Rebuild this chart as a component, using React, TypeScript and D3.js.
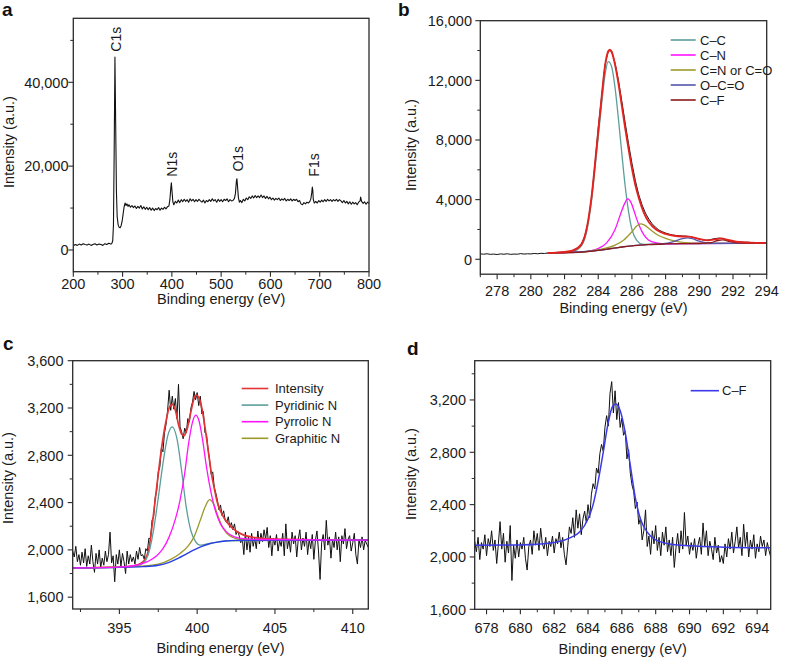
import React from "react";
import * as d3 from "d3";

type Pt = [number, number];

// ---------------- Panel a : survey spectrum ----------------
const surveySpectrum: Pt[] = [
  [200, 1000], [204, 1300], [208, 1100], [212, 1400], [216, 1200], [220, 1500], [224, 1300], [228, 1200], [232, 1400], [236, 1100],
  [240, 1300], [244, 1500], [248, 1200], [252, 1400], [256, 1300], [260, 1100], [264, 1500], [268, 1300], [272, 1600], [276, 1400],
  [278, 1500], [280, 2200], [281.5, 6000], [283, 24000], [284.5, 46000], [286, 30000], [287.5, 14000], [289, 8000], [291, 6000], [293, 5400],
  [295, 5300], [297, 5800], [299, 6800], [301, 8500], [303, 10200], [305, 11200], [307, 10600], [309, 11000], [311, 10400], [313, 10800],
  [316, 10200], [319, 10600], [322, 10100], [325, 10500], [328, 9900], [331, 10400], [334, 10000], [337, 10600], [340, 9800], [343, 10300],
  [346, 9700], [349, 10200], [352, 9600], [355, 10100], [358, 9500], [361, 10000], [364, 9400], [367, 9900], [370, 9600], [373, 10100],
  [376, 9500], [379, 10000], [382, 9700], [385, 10200], [388, 9800], [391, 10300], [394, 10500], [396, 12000], [398, 15000], [399, 16000],
  [400, 14500], [402, 11500], [404, 10800], [407, 11600], [410, 11200], [413, 11900], [416, 11300], [419, 12000], [422, 11500], [425, 12100],
  [428, 11600], [431, 12000], [434, 11400], [437, 12200], [440, 11700], [443, 12100], [446, 11500], [449, 12000], [452, 11600], [455, 12100],
  [458, 11700], [461, 11400], [464, 11900], [467, 11200], [470, 11800], [473, 11500], [476, 12000], [479, 11600], [482, 12200], [485, 11700],
  [488, 12000], [491, 11400], [494, 12100], [497, 11600], [500, 12000], [503, 11500], [506, 12100], [509, 11800], [512, 12200], [515, 11500],
  [518, 12000], [521, 11700], [524, 11800], [527, 12300], [529, 13500], [531, 16500], [532, 17000], [533, 15500], [535, 12500], [537, 11400],
  [539, 11800], [542, 11300], [545, 12100], [548, 11700], [551, 12400], [554, 12000], [557, 12700], [560, 12300], [563, 12900], [566, 12400],
  [569, 13000], [572, 12500], [575, 12900], [578, 12500], [581, 13100], [584, 12500], [587, 12900], [590, 12300], [593, 12800], [596, 12200],
  [599, 12600], [602, 12000], [605, 12400], [608, 11900], [611, 12300], [614, 12000], [617, 12400], [620, 11800], [623, 12200], [626, 11900],
  [629, 12300], [632, 11700], [635, 12100], [638, 11800], [641, 12200], [644, 11700], [647, 12100], [650, 11800], [653, 12100], [656, 11500],
  [659, 11800], [662, 11000], [665, 10800], [668, 11300], [671, 11000], [674, 11400], [677, 11200], [680, 11600], [682, 12200], [684, 13800],
  [685, 15000], [686, 14200], [687, 12000], [689, 11200], [692, 11600], [695, 11200], [698, 11800], [701, 11400], [704, 11900], [707, 11500],
  [710, 12000], [713, 11600], [716, 12100], [719, 11700], [722, 12000], [725, 11600], [728, 12000], [731, 11700], [734, 12100], [737, 11600],
  [740, 12000], [743, 11700], [746, 11300], [749, 11800], [752, 11200], [755, 11600], [758, 11000], [761, 11500], [764, 10900], [767, 11400],
  [770, 11000], [773, 11300], [776, 10800], [779, 11400], [782, 11700], [783, 12600], [785, 11600], [788, 11100], [791, 11500], [794, 10900],
  [797, 11400], [800, 11100],
];
const surveyPeakLabels = ["C1s", "N1s", "O1s", "F1s"];
const surveyPeakEnergies = [285, 399, 532, 686];
const surveyLabelIntensity = [47300, 17500, 18700, 17500];
const aXTicks = [200, 300, 400, 500, 600, 700, 800];
const aXMinor = [250, 350, 450, 550, 650, 750];
const aYTicks = [0, 20000, 40000];
const aYMinor = [10000, 30000, 50000];

// ---------------- Panel b : C1s ----------------
const c1sRawStart = 277;
const c1sRawStep = 0.2;
const c1sRaw = [
  360, 340, 370, 330, 350, 320, 360, 340, 370, 330,
  350, 340, 380, 350, 370, 360, 390, 370, 400, 390,
  420, 430, 440, 460, 470, 500, 520, 560, 640, 780,
  1020, 1550, 2500, 4100, 6300, 8800, 10900, 13000, 14000, 13950,
  13150, 12000, 10600, 9150, 7750, 6450, 5300, 4350, 3650, 3100,
  2700, 2380, 2150, 1960, 1850, 1760, 1690, 1630, 1600, 1580,
  1560, 1550, 1520, 1480, 1420, 1360, 1300, 1280, 1300, 1360,
  1400, 1420, 1380, 1300, 1250, 1200, 1180, 1160, 1150, 1140,
  1130, 1120, 1110, 1120, 1100, 1100,
];
const c1sEnvelope: Pt[] = [
  [281, 430], [281.5, 450], [282, 490], [282.5, 590], [283, 1000], [283.3, 1980], [283.6, 4150], [283.9, 7450], [284.2, 10850],
  [284.4, 12950], [284.6, 13950], [284.7, 14050], [284.8, 13900], [285, 13050], [285.2, 11800], [285.4, 10300], [285.6, 8800],
  [285.8, 7400], [286, 6100], [286.2, 5000], [286.4, 4150], [286.7, 3150], [287, 2500], [287.5, 1950], [288, 1700], [288.5, 1580],
  [289, 1530], [289.4, 1520], [290, 1360], [290.5, 1270], [291, 1350], [291.3, 1400], [291.7, 1300], [292.2, 1180], [293, 1120], [294, 1100],
];
const c1sCC: Pt[] = [
  [281, 420], [282, 445], [282.5, 520], [283, 900], [283.3, 1800], [283.6, 3900], [283.9, 7100], [284.2, 10400], [284.4, 12350],
  [284.6, 13250], [284.8, 12900], [285, 11500], [285.2, 9400], [285.4, 7100], [285.6, 4900], [285.8, 3200], [286, 2000],
  [286.3, 1250], [286.6, 1020], [287, 1000], [288, 1030], [290, 1060], [294, 1080],
];
const c1sCN: Pt[] = [
  [281, 420], [283, 490], [283.5, 560], [284, 720], [284.5, 1100], [285, 2000], [285.3, 2950], [285.55, 3700], [285.75, 4050],
  [285.95, 3800], [286.15, 3150], [286.4, 2350], [286.7, 1650], [287, 1280], [287.5, 1090], [288, 1040], [290, 1060], [294, 1080],
];
const c1sCNO: Pt[] = [
  [281, 420], [283, 485], [284, 640], [284.5, 760], [285, 950], [285.5, 1280], [286, 1850], [286.3, 2250], [286.5, 2380],
  [286.75, 2290], [287.1, 1980], [287.5, 1650], [288, 1400], [288.5, 1240], [289, 1130], [290, 1070], [294, 1080],
];
const c1sOCO: Pt[] = [
  [281, 420], [284, 600], [286, 900], [287, 995], [288, 1070], [288.5, 1200], [289, 1380], [289.3, 1440], [289.6, 1380],
  [290, 1210], [290.5, 1090], [291, 1065], [292, 1070], [294, 1080],
];
const c1sCF: Pt[] = [
  [281, 420], [282, 440], [283, 480], [283.5, 530], [284, 600], [284.5, 680], [285, 760], [285.5, 840], [286, 900], [286.5, 950],
  [287, 990], [288, 1030], [289, 1050], [290, 1060], [290.7, 1120], [291.1, 1260], [291.4, 1300], [291.8, 1200], [292.3, 1100],
  [293, 1080], [294, 1080],
];
const c1sLegend = ["C–C", "C–N", "C=N or C=O", "O–C=O", "C–F"];
const bXTicks = [278, 280, 282, 284, 286, 288, 290, 292, 294];
const bXMinor = [277, 279, 281, 283, 285, 287, 289, 291, 293];
const bYTicks = [0, 4000, 8000, 12000, 16000];
const bYMinor = [2000, 6000, 10000, 14000];

// ---------------- Panel c : N1s ----------------
const n1sRawStart = 392;
const n1sRawStep = 0.1;
const n1sRaw = [
  1990, 1940, 2030, 1900, 1960, 1870, 1980, 1890, 2010, 1860,
  1950, 1880, 2040, 1900, 1810, 1970, 1880, 2000, 1850, 1930,
  1870, 1990, 1900, 1960, 2150, 1890, 1950, 1730, 1960, 1880,
  2000, 1860, 1970, 1900, 1800, 1990, 1880, 1960, 1900, 1940,
  1880, 1990, 1920, 2020, 1950,
  1960, 1920, 2010, 1990, 2100, 2090, 2250, 2280, 2440, 2500,
  2660, 2700, 2860, 2830, 2990, 3060, 3180, 3350, 3180, 3300,
  3190, 3280, 3110, 3400, 3040, 3000, 2940, 3030, 2990, 3110,
  3080, 3200, 3250, 3340, 3270, 3330, 3220, 3300, 3150, 3170,
  2990, 2980, 2850, 2760, 2640, 2660, 2530, 2480, 2420, 2340,
  2380, 2290, 2330, 2250, 2230, 2280, 2190, 2230, 2170, 2220,
  2130, 2160, 2120, 2060, 2100,
  1960, 2150, 2000, 2110, 1980, 2140, 2030, 2100, 2010, 2160,
  2050, 2140, 2070, 2170, 2090, 2190, 2020, 2120, 1950, 2100,
  2040, 2130, 1990, 2080, 2030, 2140, 1950, 2220, 2010, 2090,
  1980, 2150, 2050, 2120, 1940, 2090, 2170, 2000, 2100, 2030,
  2150, 1960, 2090, 2010, 2130, 1920, 2080, 2160, 1990, 1750,
  2060, 2130, 2000, 2250, 2040, 2110, 1930, 2090, 2020, 2150,
  2000, 2110, 1900, 2120, 2050, 2180, 2010, 2090, 2120, 1990,
  2060, 2140, 1960, 1880, 2090, 2020, 2110, 2000, 2080, 2050,
  2020,
];
const n1sEnvelope: Pt[] = [
  [392, 1848], [395, 1855], [396, 1868], [396.3, 1880], [396.6, 1910], [396.9, 2010], [397.1, 2200], [397.4, 2530], [397.7, 2850],
  [398, 3090], [398.2, 3200], [398.4, 3230], [398.6, 3180], [398.8, 3060], [399, 2980], [399.15, 2965], [399.35, 3020], [399.6, 3170],
  [399.8, 3280], [399.95, 3310], [400.1, 3290], [400.3, 3200], [400.5, 3040], [400.7, 2850], [400.9, 2660], [401.1, 2520],
  [401.3, 2400], [401.6, 2300], [402, 2220], [402.5, 2160], [403, 2125], [403.7, 2105], [405, 2092], [411, 2082],
];
const n1sPyridinic: Pt[] = [
  [392, 1848], [395, 1852], [396, 1860], [396.5, 1885], [396.9, 1980], [397.2, 2170], [397.5, 2440], [397.8, 2730], [398.1, 2960],
  [398.4, 3040], [398.7, 2940], [399, 2670], [399.3, 2360], [399.6, 2160], [399.9, 2070], [400.2, 2040], [400.8, 2055],
  [401.3, 2066], [402, 2077], [411, 2082],
];
const n1sPyrrolic: Pt[] = [
  [392, 1848], [395, 1855], [396, 1868], [396.8, 1900], [397.4, 1950], [397.8, 2010], [398.2, 2110], [398.6, 2260], [398.9, 2420],
  [399.2, 2650], [399.45, 2900], [399.7, 3080], [399.9, 3140], [400.1, 3100], [400.35, 2930], [400.6, 2700], [400.9, 2480],
  [401.2, 2320], [401.5, 2220], [401.9, 2150], [402.4, 2110], [403, 2095], [404, 2088], [411, 2082],
];
const n1sGraphitic: Pt[] = [
  [392, 1848], [396, 1860], [397.5, 1880], [398.3, 1920], [398.9, 1970], [399.4, 2030], [399.8, 2110], [400.2, 2250],
  [400.5, 2360], [400.8, 2425], [401.05, 2390], [401.3, 2300], [401.6, 2200], [401.9, 2140], [402.3, 2105], [402.8, 2088],
  [404, 2082], [411, 2082],
];
const n1sBackground: Pt[] = [
  [392, 1848], [395, 1852], [396.5, 1858], [397.5, 1870], [398.2, 1895], [398.8, 1930], [399.3, 1965], [399.8, 2000],
  [400.3, 2030], [400.8, 2052], [401.3, 2066], [401.8, 2075], [402.5, 2080], [404, 2082], [411, 2082],
];
const n1sLegend = ["Intensity", "Pyridinic N", "Pyrrolic N", "Graphitic N"];
const cXTicks = [395, 400, 405, 410];
const cXMinor = [392.5, 397.5, 402.5, 407.5];
const cYTicks = [1600, 2000, 2400, 2800, 3200, 3600];
const cYMinor = [1800, 2200, 2600, 3000, 3400];

// ---------------- Panel d : F1s ----------------
const f1sRawStart = 677.3;
const f1sRawStep = 0.1;
const f1sRaw = [
  2120, 2040, 2150, 1980, 2110, 2060, 2170, 2010, 2140, 2080,
  2200, 2050, 2130, 1950, 2100, 2270, 2060, 2180, 1960, 2120,
  2030, 2240, 1820, 2090, 1990, 2130, 2000, 2110, 2060, 2150,
  1990, 1900, 2080, 2130, 2020, 2200, 2090, 2180, 2050, 2220,
  2100, 2060, 2150, 2010, 2120, 2080, 2160, 2030, 2140, 2100,
  2190, 2070, 2150, 2020, 1940, 2080, 2230, 2180, 2300, 2150,
  2360, 2220, 2330, 2170, 2290, 2350, 2260, 2400, 2300, 2480,
  2560, 2520, 2680, 2640, 2790, 2860, 2810, 2990, 3080, 3000,
  3250, 3340, 3100, 3270, 3050, 3180, 2990, 3060, 2930, 2960,
  2750, 2820, 2640, 2550, 2500, 2370, 2420, 2250, 2300, 2130,
  2200, 2360, 2080, 2160, 2020, 2200, 2100, 2240, 2050, 2150,
  2010, 2190, 2090, 2230, 2040, 2130, 2010, 2150, 1920, 2070,
  2180, 2030, 2200, 2060, 2340, 2090, 2160, 2020, 2110, 2050,
  2140, 1990, 2090, 2150, 2020, 2260, 2080, 2200, 2010, 2120,
  2060, 1980, 2150, 2030, 2090, 1960, 2010, 1950, 2100, 2000,
  2140, 2060, 2190, 2030, 2120, 2230, 2070, 2150, 2010, 2250,
  2080, 2190, 2000, 2130, 2060, 2170, 1990, 2100, 2040, 2160,
  2080, 2130, 2010, 2110, 2050, 2000,
];
const f1sFit: Pt[] = [
  [677.3, 2090], [680, 2092], [682, 2110], [683, 2150], [683.5, 2190], [684, 2290], [684.3, 2400], [684.6, 2580],
  [684.9, 2800], [685.2, 3030], [685.45, 3150], [685.65, 3170], [685.9, 3120], [686.2, 2950], [686.5, 2700], [686.8, 2450],
  [687.1, 2290], [687.5, 2190], [688, 2130], [689, 2095], [690, 2085], [692, 2075], [694.8, 2070],
];
const f1sLegend = ["C–F"];
const dXTicks = [678, 680, 682, 684, 686, 688, 690, 692, 694];
const dXMinor = [679, 681, 683, 685, 687, 689, 691, 693];
const dYTicks = [1600, 2000, 2400, 2800, 3200];
const dYMinor = [1800, 2200, 2600, 3000, 3400];

// ---------------- rendering ----------------
const FONT = "'Liberation Sans', Arial, Helvetica, sans-serif";
const fmt = d3.format(",");

const COL = {
  teal: "#5b9e9a",
  magenta: "#ff14ff",
  olive: "#9c9a2c",
  purple: "#5555aa",
  darkred: "#8b1a1a",
  red: "#e3231f",
  red2: "#e23434",
  blue: "#2a3fe0",
  blueD: "#3a3ae8",
};

const fromStep = (start: number, step: number, vals: number[]): Pt[] => vals.map((v, i) => [start + i * step, v]);

type Series = { data: Pt[]; color: string; width: number; smooth?: boolean };
type PanelCfg = {
  id: string;
  letter: string;
  letterPos: [number, number];
  frame: { l: number; r: number; t: number; b: number };
  xDomain: [number, number];
  yDomain: [number, number];
  xTicks: number[];
  xMinor: number[];
  yTicks: number[];
  yMinor: number[];
  xLabelBase: number;
  yLabelEnd: number;
  xTitleBase: number;
  yTitlePos: [number, number];
  series: Series[];
  legend?: { items: string[]; colors: string[]; x1: number; x2: number; tx: number; y0: number; dy: number };
};

function PanelView({ p, children }: { p: PanelCfg; children?: (x: d3.ScaleLinear<number, number>, y: d3.ScaleLinear<number, number>) => React.ReactNode }) {
  const x = d3.scaleLinear().domain(p.xDomain).range([p.frame.l, p.frame.r]);
  const y = d3.scaleLinear().domain(p.yDomain).range([p.frame.b, p.frame.t]);
  const { l, r, t, b } = p.frame;
  const clipId = `clip-${p.id}`;
  return (
    <g>
      <defs>
        <clipPath id={clipId}>
          <rect x={l} y={t} width={r - l} height={b - t} />
        </clipPath>
      </defs>
      <g clipPath={`url(#${clipId})`}>
        {p.series.map((s, i) => {
          const line = d3
            .line<Pt>()
            .x((d) => x(d[0]))
            .y((d) => y(d[1]))
            .curve(s.smooth ? d3.curveMonotoneX : d3.curveLinear);
          return <path key={i} d={line(s.data) ?? ""} fill="none" stroke={s.color} strokeWidth={s.width} strokeLinejoin="round" />;
        })}
      </g>
      <rect x={l} y={t} width={r - l} height={b - t} fill="none" stroke="#2a2a2a" strokeWidth={1.3} />
      {p.xTicks.map((v) => (
        <g key={`xt${v}`}>
          <line x1={x(v)} x2={x(v)} y1={b} y2={b + 5} stroke="#2a2a2a" strokeWidth={1.1} />
          <text x={x(v)} y={p.xLabelBase} textAnchor="middle" fontSize={14.5} fontFamily={FONT} fill="#1a1a1a">
            {fmt(v)}
          </text>
        </g>
      ))}
      {p.xMinor.map((v) => (
        <line key={`xm${v}`} x1={x(v)} x2={x(v)} y1={b} y2={b + 3} stroke="#2a2a2a" strokeWidth={1} />
      ))}
      {p.yTicks.map((v) => (
        <g key={`yt${v}`}>
          <line x1={l - 5} x2={l} y1={y(v)} y2={y(v)} stroke="#2a2a2a" strokeWidth={1.1} />
          <text x={p.yLabelEnd} y={y(v)} dy="0.36em" textAnchor="end" fontSize={14.5} fontFamily={FONT} fill="#1a1a1a">
            {fmt(v)}
          </text>
        </g>
      ))}
      {p.yMinor.map((v) => (
        <line key={`ym${v}`} x1={l - 3} x2={l} y1={y(v)} y2={y(v)} stroke="#2a2a2a" strokeWidth={1} />
      ))}
      <text x={(l + r) / 2} y={p.xTitleBase} textAnchor="middle" fontSize={14.5} fontFamily={FONT} fill="#1a1a1a">
        Binding energy (eV)
      </text>
      <text
        transform={`translate(${p.yTitlePos[0]},${p.yTitlePos[1]}) rotate(-90)`}
        textAnchor="middle"
        fontSize={14.5}
        fontFamily={FONT}
        fill="#1a1a1a"
      >
        Intensity (a.u.)
      </text>
      <text x={p.letterPos[0]} y={p.letterPos[1]} fontSize={19} fontWeight="bold" fontFamily={FONT} fill="#111">
        {p.letter}
      </text>
      {p.legend &&
        p.legend.items.map((it, i) => {
          const lg = p.legend!;
          const yy = lg.y0 + i * lg.dy;
          return (
            <g key={it}>
              <line x1={lg.x1} x2={lg.x2} y1={yy} y2={yy} stroke={lg.colors[i]} strokeWidth={1.6} />
              <text x={lg.tx} y={yy} dy="0.36em" fontSize={13} fontFamily={FONT} fill="#1a1a1a">
                {it}
              </text>
            </g>
          );
        })}
      {children && children(x, y)}
    </g>
  );
}

const panelA: PanelCfg = {
  id: "a",
  letter: "a",
  letterPos: [2, 16],
  frame: { l: 73.3, r: 369, t: 18.3, b: 271.7 },
  xDomain: [200, 800],
  yDomain: [-5180, 55270],
  xTicks: aXTicks,
  xMinor: aXMinor,
  yTicks: aYTicks,
  yMinor: aYMinor,
  xLabelBase: 289,
  yLabelEnd: 68.5,
  xTitleBase: 304,
  yTitlePos: [13.5, 142],
  series: [{ data: surveySpectrum, color: "#111", width: 1.1 }],
};

const panelB: PanelCfg = {
  id: "b",
  letter: "b",
  letterPos: [398, 16],
  frame: { l: 480.3, r: 766.7, t: 20.7, b: 274.2 },
  xDomain: [277, 294],
  yDomain: [-1000, 16000],
  xTicks: bXTicks,
  xMinor: bXMinor,
  yTicks: bYTicks,
  yMinor: bYMinor,
  xLabelBase: 296,
  yLabelEnd: 472,
  xTitleBase: 313,
  yTitlePos: [416, 145],
  series: [
    { data: fromStep(c1sRawStart, c1sRawStep, c1sRaw), color: "#111", width: 1 },
    { data: c1sCC, color: COL.teal, width: 1.3, smooth: true },
    { data: c1sCN, color: COL.magenta, width: 1.3, smooth: true },
    { data: c1sCNO, color: COL.olive, width: 1.3, smooth: true },
    { data: c1sOCO, color: COL.purple, width: 1.3, smooth: true },
    { data: c1sCF, color: COL.darkred, width: 1.3, smooth: true },
    { data: c1sEnvelope, color: COL.red, width: 1.9, smooth: true },
  ],
  legend: {
    items: c1sLegend,
    colors: [COL.teal, COL.magenta, COL.olive, COL.purple, COL.darkred],
    x1: 670.7,
    x2: 695.7,
    tx: 700,
    y0: 40,
    dy: 15,
  },
};

const panelC: PanelCfg = {
  id: "c",
  letter: "c",
  letterPos: [3, 349.5],
  frame: { l: 72.7, r: 368.3, t: 360.7, b: 609 },
  xDomain: [392, 411],
  yDomain: [1500, 3600],
  xTicks: cXTicks,
  xMinor: cXMinor,
  yTicks: cYTicks,
  yMinor: cYMinor,
  xLabelBase: 633,
  yLabelEnd: 63.5,
  xTitleBase: 653,
  yTitlePos: [13, 478],
  series: [
    { data: fromStep(n1sRawStart, n1sRawStep, n1sRaw), color: "#111", width: 1 },
    { data: n1sEnvelope, color: COL.red2, width: 1.7, smooth: true },
    { data: n1sPyridinic, color: COL.teal, width: 1.3, smooth: true },
    { data: n1sGraphitic, color: COL.olive, width: 1.3, smooth: true },
    { data: n1sBackground, color: COL.blue, width: 1.4, smooth: true },
    { data: n1sPyrrolic, color: COL.magenta, width: 1.3, smooth: true },
  ],
  legend: {
    items: n1sLegend,
    colors: [COL.red2, COL.teal, COL.magenta, COL.olive],
    x1: 241.7,
    x2: 268.3,
    tx: 275,
    y0: 388.5,
    dy: 16.6,
  },
};

const panelD: PanelCfg = {
  id: "d",
  letter: "d",
  letterPos: [407, 355],
  frame: { l: 474.7, r: 770.7, t: 360.7, b: 609.3 },
  xDomain: [677.3, 694.8],
  yDomain: [1600, 3500],
  xTicks: dXTicks,
  xMinor: dXMinor,
  yTicks: dYTicks,
  yMinor: dYMinor,
  xLabelBase: 633,
  yLabelEnd: 466,
  xTitleBase: 654,
  yTitlePos: [416, 474],
  series: [
    { data: fromStep(f1sRawStart, f1sRawStep, f1sRaw), color: "#111", width: 1 },
    { data: f1sFit, color: COL.blueD, width: 1.5, smooth: true },
  ],
  legend: {
    items: f1sLegend,
    colors: [COL.blueD],
    x1: 690.7,
    x2: 719,
    tx: 722,
    y0: 390.7,
    dy: 16,
  },
};

export default function App() {
  return (
    <svg
      width={788}
      height={658}
      viewBox="0 0 788 658"
      style={{ position: "absolute", left: 0, top: 0, background: "#fff" }}
    >
      <rect x={0} y={0} width={788} height={658} fill="#fff" />
      <PanelView p={panelA}>
        {(x, y) =>
          surveyPeakLabels.map((lab, i) => (
            <text
              key={lab}
              transform={`translate(${x(surveyPeakEnergies[i]) + 6},${y(surveyLabelIntensity[i])}) rotate(-90)`}
              fontSize={14}
              fontFamily={FONT}
              fill="#1a1a1a"
            >
              {lab}
            </text>
          ))
        }
      </PanelView>
      <PanelView p={panelB} />
      <PanelView p={panelC} />
      <PanelView p={panelD} />
    </svg>
  );
}
